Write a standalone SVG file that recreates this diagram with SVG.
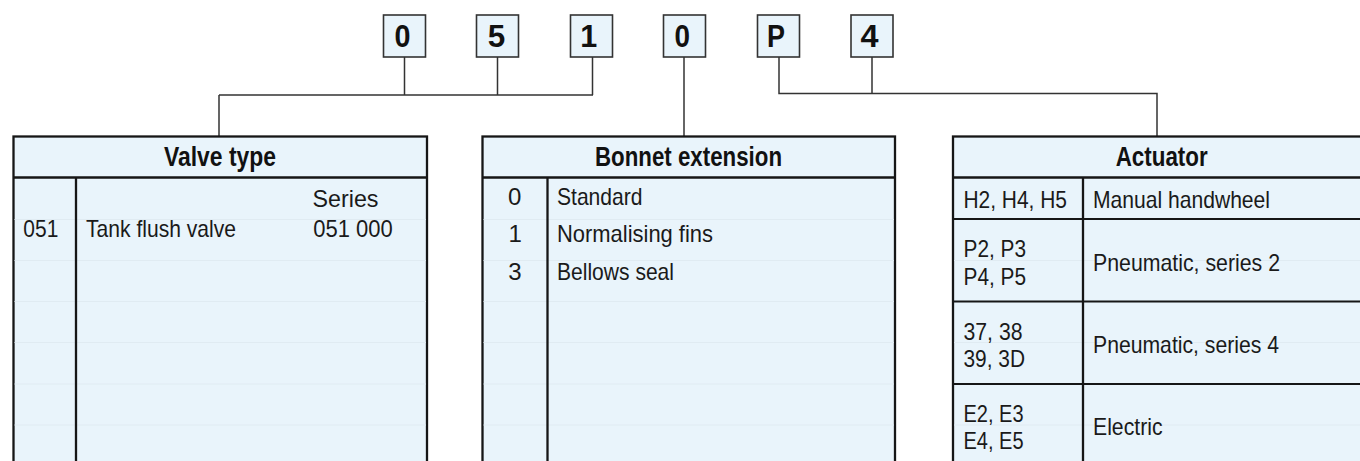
<svg xmlns="http://www.w3.org/2000/svg" width="1360" height="461" viewBox="0 0 1360 461">
<style>
.bg{fill:#ffffff}
.tbl{fill:#e9f4fb;stroke:#161616;stroke-width:2.3}
.div{stroke:#161616;stroke-width:2.3;fill:none}
.rowd{stroke:#161616;stroke-width:1.8;fill:none}
.faint{stroke:#e0ebf2;stroke-width:1;fill:none}
.box{fill:#e9f4fb;stroke:#333333;stroke-width:1.6}
.con{stroke:#333333;stroke-width:1.5;fill:none}
.dig{font-family:"Liberation Sans",Arial,sans-serif;font-weight:bold;font-size:31px;fill:#111111}
.hd{font-family:"Liberation Sans",Arial,sans-serif;font-weight:bold;font-size:27px;fill:#111111}
.tx{font-family:"Liberation Sans",Arial,sans-serif;font-size:24px;fill:#1a1a1a}
</style>
<rect class="bg" x="0" y="0" width="1360" height="461"/>

<g id="connectors">
  <path class="con" d="M404.5 57 V95 M497.5 57 V95 M592.5 57 V95 M219 95 H593 M219 95 V136"/>
  <path class="con" d="M684 57 V136"/>
  <path class="con" d="M779 57 V93.5 H1157 V136 M872 57 V93.5"/>
</g>

<g id="code-0a"><rect class="box" x="383.5" y="15" width="42" height="42"/><text class="dig" x="402.4" y="47.3" text-anchor="middle" textLength="16" lengthAdjust="spacingAndGlyphs">0</text></g>
<g id="code-5"><rect class="box" x="476.5" y="15" width="42" height="42"/><text class="dig" x="496.5" y="47.3" text-anchor="middle" textLength="17.5" lengthAdjust="spacingAndGlyphs">5</text></g>
<g id="code-1"><rect class="box" x="570.5" y="15" width="42" height="42"/><text class="dig" x="588.7" y="47.3" text-anchor="middle" textLength="17" lengthAdjust="spacingAndGlyphs">1</text></g>
<g id="code-0b"><rect class="box" x="663.5" y="15" width="42" height="42"/><text class="dig" x="682.2" y="47.3" text-anchor="middle" textLength="15.5" lengthAdjust="spacingAndGlyphs">0</text></g>
<g id="code-P"><rect class="box" x="757.5" y="15" width="42" height="42"/><text class="dig" x="776" y="47.3" text-anchor="middle" textLength="18" lengthAdjust="spacingAndGlyphs">P</text></g>
<g id="code-4"><rect class="box" x="851" y="15" width="42" height="42"/><text class="dig" x="869.5" y="47.3" text-anchor="middle" textLength="18" lengthAdjust="spacingAndGlyphs">4</text></g>

<g id="valve-type">
  <rect class="tbl" x="13.5" y="136.5" width="413.5" height="340"/>
  <path class="faint" d="M14.5 219.5 H426 M14.5 260.5 H426 M14.5 301.5 H426 M14.5 342.5 H426 M14.5 384 H426 M14.5 425 H426"/>
  <path class="div" d="M13.5 177.5 H427 M76 177.5 V470"/>
  <text class="hd" x="164" y="166" textLength="112" lengthAdjust="spacingAndGlyphs">Valve type</text>
  <text class="tx" x="312.5" y="206.7" textLength="66" lengthAdjust="spacingAndGlyphs">Series</text>
  <text class="tx" x="23.3" y="236.7" textLength="35" lengthAdjust="spacingAndGlyphs">051</text>
  <text class="tx" x="86" y="236.7" textLength="150" lengthAdjust="spacingAndGlyphs">Tank flush valve</text>
  <text class="tx" x="313.3" y="236.7" textLength="79.5" lengthAdjust="spacingAndGlyphs">051 000</text>
</g>

<g id="bonnet-extension">
  <rect class="tbl" x="482.5" y="136.5" width="412.5" height="340"/>
  <path class="faint" d="M483.5 219.5 H894 M483.5 260.5 H894 M483.5 301.5 H894 M483.5 342.5 H894 M483.5 384 H894 M483.5 425 H894"/>
  <path class="div" d="M482.5 177.5 H895 M547.5 177.5 V470"/>
  <text class="hd" x="595" y="166" textLength="187" lengthAdjust="spacingAndGlyphs">Bonnet extension</text>
  <text class="tx" x="514.8" y="205" text-anchor="middle">0</text>
  <text class="tx" x="515.3" y="241.7" text-anchor="middle">1</text>
  <text class="tx" x="515" y="280" text-anchor="middle">3</text>
  <text class="tx" x="557" y="205" textLength="85.5" lengthAdjust="spacingAndGlyphs">Standard</text>
  <text class="tx" x="557" y="241.7" textLength="156" lengthAdjust="spacingAndGlyphs">Normalising fins</text>
  <text class="tx" x="557" y="280" textLength="117" lengthAdjust="spacingAndGlyphs">Bellows seal</text>
</g>

<g id="actuator">
  <rect class="tbl" x="953" y="136.5" width="420" height="340"/>
  <path class="faint" d="M954 260.5 H1372 M954 342.5 H1372 M954 425 H1372"/>
  <path class="div" d="M953 177.5 H1373 M1083 177.5 V470"/>
  <path class="rowd" d="M953 219 H1373 M953 301.5 H1373 M953 384 H1373"/>
  <text class="hd" x="1115.7" y="166" textLength="92" lengthAdjust="spacingAndGlyphs">Actuator</text>
  <text class="tx" x="963.5" y="208.3" textLength="103.5" lengthAdjust="spacingAndGlyphs">H2, H4, H5</text>
  <text class="tx" x="1093" y="208.3" textLength="177" lengthAdjust="spacingAndGlyphs">Manual handwheel</text>
  <text class="tx" x="963.5" y="256.7" textLength="62.5" lengthAdjust="spacingAndGlyphs">P2, P3</text>
  <text class="tx" x="963.5" y="285" textLength="62.5" lengthAdjust="spacingAndGlyphs">P4, P5</text>
  <text class="tx" x="1093" y="271" textLength="187" lengthAdjust="spacingAndGlyphs">Pneumatic, series 2</text>
  <text class="tx" x="963.5" y="340" textLength="59" lengthAdjust="spacingAndGlyphs">37, 38</text>
  <text class="tx" x="963.5" y="367.3" textLength="61.5" lengthAdjust="spacingAndGlyphs">39, 3D</text>
  <text class="tx" x="1093" y="353.3" textLength="186" lengthAdjust="spacingAndGlyphs">Pneumatic, series 4</text>
  <text class="tx" x="963.5" y="421.7" textLength="60" lengthAdjust="spacingAndGlyphs">E2, E3</text>
  <text class="tx" x="963.5" y="449.3" textLength="60" lengthAdjust="spacingAndGlyphs">E4, E5</text>
  <text class="tx" x="1093" y="435" textLength="69.5" lengthAdjust="spacingAndGlyphs">Electric</text>
</g>
</svg>
